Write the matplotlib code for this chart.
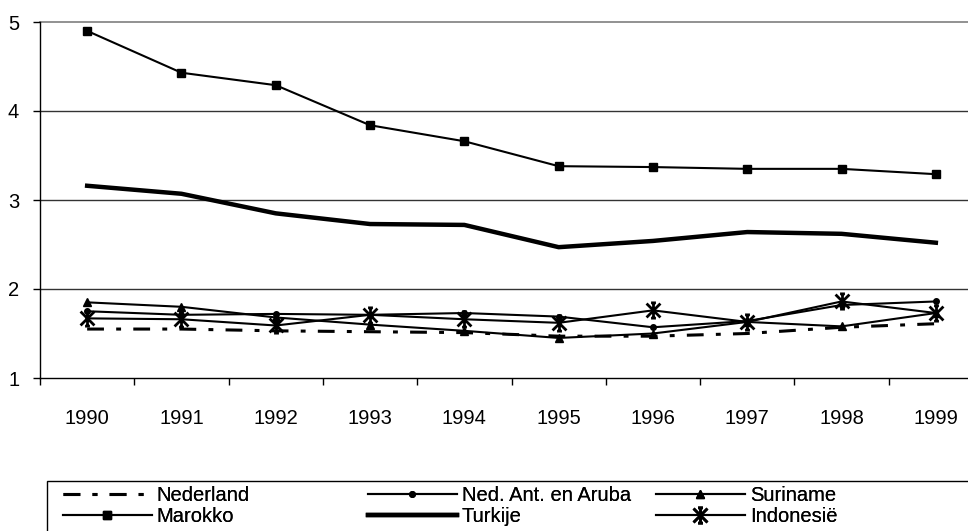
import numpy as np
from matplotlib import pyplot as plt
from matplotlib.path import Path
from matplotlib.patches import Rectangle

plt.rcParams['font.family'] = ['Liberation Sans', 'DejaVu Sans']

###
# Data
###

years = ['1990', '1991', '1992', '1993', '1994', '1995', '1996', '1997', '1998', '1999']

nederland = [1.55, 1.55, 1.53, 1.52, 1.51, 1.47, 1.47, 1.50, 1.57, 1.61]
ned_ant = [1.75, 1.71, 1.72, 1.71, 1.73, 1.69, 1.57, 1.64, 1.82, 1.86]
suriname = [1.85, 1.80, 1.68, 1.60, 1.53, 1.45, 1.50, 1.63, 1.58, 1.73]
marokko = [4.90, 4.43, 4.29, 3.84, 3.66, 3.38, 3.37, 3.35, 3.35, 3.29]
turkije = [3.16, 3.07, 2.85, 2.73, 2.72, 2.47, 2.54, 2.64, 2.62, 2.52]
indonesie = [1.67, 1.66, 1.59, 1.71, 1.66, 1.62, 1.76, 1.63, 1.86, 1.73]

# Asterisk marker: an X with a capped vertical stroke through it
star = Path([(-1, -1), (1, 1), (-1, 1), (1, -1), (0, -1.1), (0, 1.1),
             (-0.35, 1.1), (0.35, 1.1), (-0.35, -1.1), (0.35, -1.1)],
            [Path.MOVETO, Path.LINETO, Path.MOVETO, Path.LINETO, Path.MOVETO, Path.LINETO,
             Path.MOVETO, Path.LINETO, Path.MOVETO, Path.LINETO])

###
# Plotting
###

fig = plt.figure(figsize=(9.68, 5.31), dpi=100)
ax = fig.add_axes([40 / 968, 153 / 531, 943 / 968, 356 / 531])

x = np.arange(len(years))

styles = {
	'Nederland': dict(data=nederland, color='black', lw=2.2, dashes=(5.5, 4, 1.6, 4)),
	'Ned. Ant. en Aruba': dict(data=ned_ant, color='black', lw=1.5, marker='o', ms=4),
	'Suriname': dict(data=suriname, color='black', lw=1.5, marker='^', ms=5.5),
	'Marokko': dict(data=marokko, color='black', lw=1.5, marker='s', ms=6),
	'Turkije': dict(data=turkije, color='black', lw=3.2),
	'Indonesië': dict(data=indonesie, color='black', lw=1.5, marker=star, ms=11, mew=2.0),
}

handles = {}
for name, st in styles.items():
	st = dict(st)
	y = st.pop('data')
	line, = ax.plot(x, y, label=name, mec='black', mfc='black', **st)
	handles[name] = line

for level in [2, 3, 4]:
	ax.axhline(level, color='#333333', lw=1.0, zorder=0)
ax.axhline(5, color='#7f7f7f', lw=1.2, zorder=0, clip_on=False)

ax.set_xlim(-0.5, 9.5)
ax.set_ylim(1, 5)

ax.spines['top'].set_visible(False)
ax.spines['right'].set_visible(False)
ax.spines['left'].set_linewidth(1.0)
ax.spines['bottom'].set_linewidth(1.0)

# Category labels sit between the tick marks
ax.set_xticks(x)
ax.set_xticklabels(years)
ax.set_xticks(np.arange(-0.5, 10, 1), minor=True)
ax.tick_params(axis='x', which='major', length=0, pad=22, labelsize=14.5)
ax.tick_params(axis='x', which='minor', length=5, width=1.0, direction='out')

ax.set_yticks([1, 2, 3, 4, 5])
ax.set_yticklabels(['1', '2', '3', '4', '5'])
ax.tick_params(axis='y', length=5, width=1.0, pad=10, labelsize=14.5)

# Legend: three columns inside one box that runs off the page
fig.patches.append(Rectangle((47 / 968, -0.05), 1.0, (531 - 481) / 531 + 0.05,
                             transform=fig.transFigure, fill=False,
                             edgecolor='black', lw=1.0, clip_on=False))

columns = [
	(['Nederland', 'Marokko'], 60),
	(['Ned. Ant. en Aruba', 'Turkije'], 365),
	(['Suriname', 'Indonesië'], 653),
]
for names, xpos in columns:
	leg = fig.legend([handles[n] for n in names], names,
	                 loc='upper left', bbox_to_anchor=(xpos / 968, 1 - 483 / 531),
	                 frameon=False, fontsize=14.5, handlelength=4.4,
	                 handletextpad=0.25, labelspacing=0.08, borderpad=0.15,
	                 borderaxespad=0)
	fig.add_artist(leg)

fig.savefig('out.png', dpi=100)
